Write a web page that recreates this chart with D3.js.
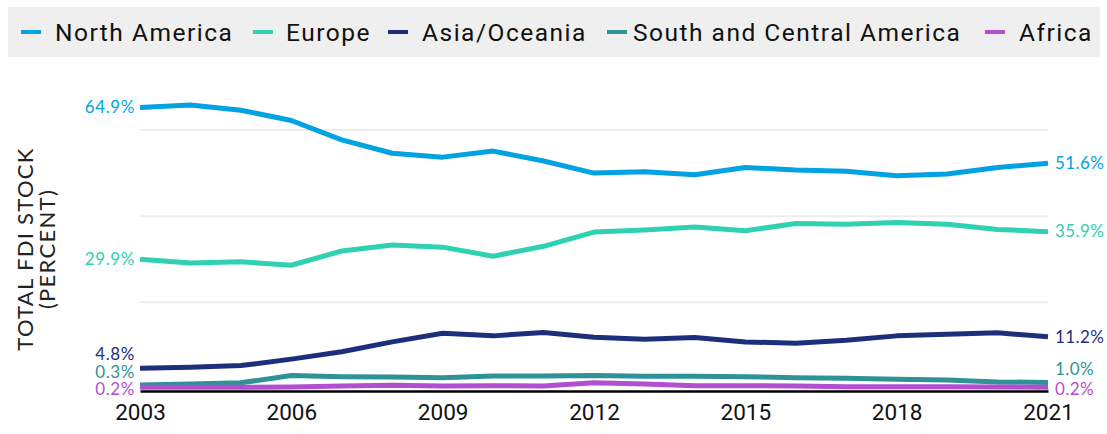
<!DOCTYPE html>
<html>
<head>
<meta charset="utf-8">
<script src="https://cdn.jsdelivr.net/npm/d3@7"></script>
<style>
  body { margin: 0; background: #fff; }
  svg { display: block; }
</style>
</head>
<body>
<div id="chart"></div>
<script>
const width = 1107;
const height = 434;

// data
const years = d3.range(2003, 2022);
const regions = ["North America", "Europe", "Asia/Oceania", "South and Central America", "Africa"];
const northAmerica = [65.2, 65.8, 64.6, 62.2, 57.7, 54.6, 53.7, 55.1, 52.8, 50.0, 50.3, 49.6, 51.3, 50.7, 50.4, 49.4, 49.8, 51.3, 52.3];
const europe = [30.0, 29.1, 29.4, 28.6, 31.9, 33.3, 32.8, 30.7, 33.0, 36.3, 36.8, 37.5, 36.6, 38.3, 38.1, 38.5, 38.1, 36.9, 36.4];
const asiaOceania = [4.7, 4.9, 5.3, 6.8, 8.5, 10.8, 12.8, 12.2, 13.0, 11.9, 11.4, 11.8, 10.8, 10.5, 11.2, 12.2, 12.6, 12.9, 12.0];
const southCentral = [0.8, 1.0, 1.3, 3.0, 2.7, 2.65, 2.5, 2.9, 2.9, 3.0, 2.8, 2.8, 2.7, 2.5, 2.35, 2.1, 1.95, 1.5, 1.4];
const africa = [0.26, 0.26, 0.26, 0.33, 0.56, 0.72, 0.56, 0.63, 0.56, 1.33, 1.03, 0.63, 0.63, 0.56, 0.4, 0.4, 0.4, 0.33, 0.26];
const startLabels = ["64.9%", "29.9%", "4.8%", "0.3%", "0.2%"];
const endLabels = ["51.6%", "35.9%", "11.2%", "1.0%", "0.2%"];
const xTicks = [2003, 2006, 2009, 2012, 2015, 2018, 2021];
const gridValues = [20, 40, 60];

const colors = ["#00a2e1", "#2fd1b0", "#1d2f7c", "#2e9397", "#b24fd1"];
const seriesValues = [northAmerica, europe, asiaOceania, southCentral, africa];

const series = regions.map((name, i) => ({
  name: name,
  color: colors[i],
  values: years.map((yr, j) => ({ year: yr, value: seriesValues[i][j] })),
  startLabel: startLabels[i],
  endLabel: endLabels[i]
}));

// label positions (px) so the small series labels don't collide
const startLabelY = [107, 259, 354, 372, 389];
const endLabelY = [163, 231, 337, 369, 389];

const x = d3.scaleLinear().domain([2003, 2021]).range([140, 1048]);
const y = d3.scaleLinear().domain([-0.6, 60]).range([391, 130]);

const svg = d3.select("#chart").append("svg")
  .attr("width", width)
  .attr("height", height);

// legend
const legend = svg.append("g");
legend.append("rect")
  .attr("x", 8).attr("y", 7)
  .attr("width", 1092).attr("height", 50)
  .attr("fill", "#efefef");

const swatchX = [21, 253, 388, 607, 985];
const legendTextX = [55, 286, 422, 633, 1019];
legend.selectAll("g.item")
  .data(series)
  .enter()
  .append("g")
  .attr("class", "item")
  .each(function (d, i) {
    const g = d3.select(this);
    g.append("rect")
      .attr("x", swatchX[i]).attr("y", 30)
      .attr("width", 20).attr("height", 4)
      .attr("fill", d.color);
    g.append("text")
      .attr("x", legendTextX[i])
      .attr("y", 32)
      .attr("dy", "0.35em")
      .attr("font-family", "Roboto, sans-serif")
      .attr("font-size", "24.5px")
      .attr("letter-spacing", "1.5px")
      .attr("fill", "#111")
      .text(d.name);
  });

// gridlines
svg.append("g")
  .selectAll("line")
  .data(gridValues)
  .enter()
  .append("line")
  .attr("x1", x(2003))
  .attr("x2", x(2021))
  .attr("y1", (d) => y(d))
  .attr("y2", (d) => y(d))
  .attr("stroke", "#ececec")
  .attr("stroke-width", 2);

// x axis
const xAxis = svg.append("g")
  .attr("transform", `translate(0,${y(-0.6)})`)
  .call(d3.axisBottom(x).tickValues(xTicks).tickFormat(d3.format("d")).tickSize(0).tickPadding(13));
xAxis.select(".domain").attr("stroke", "#000").attr("stroke-width", 2.5);
xAxis.selectAll("text")
  .attr("font-family", "Roboto, sans-serif")
  .attr("font-size", "22.5px")
  .attr("fill", "#111");

// y axis title
svg.append("text")
  .attr("transform", "translate(33,249) rotate(-90)")
  .attr("text-anchor", "middle")
  .attr("font-family", "Lato, sans-serif")
  .attr("font-size", "22px")
  .attr("letter-spacing", "1.3px")
  .attr("fill", "#222")
  .text("TOTAL FDI STOCK");
svg.append("text")
  .attr("transform", "translate(55,249) rotate(-90)")
  .attr("text-anchor", "middle")
  .attr("font-family", "Lato, sans-serif")
  .attr("font-size", "22px")
  .attr("letter-spacing", "1.3px")
  .attr("fill", "#222")
  .text("(PERCENT)");

// lines
const line = d3.line()
  .x((d) => x(d.year))
  .y((d) => y(d.value));

svg.append("g")
  .selectAll("path")
  .data(series)
  .enter()
  .append("path")
  .attr("d", (d) => line(d.values))
  .attr("fill", "none")
  .attr("stroke", (d) => d.color)
  .attr("stroke-width", 5)
  .attr("stroke-linejoin", "round");

// end labels
svg.append("g")
  .selectAll("text")
  .data(series)
  .enter()
  .append("text")
  .attr("x", x(2003) - 5)
  .attr("y", (d, i) => startLabelY[i])
  .attr("dy", "0.35em")
  .attr("text-anchor", "end")
  .attr("font-family", "Lato, sans-serif")
  .attr("font-size", "17px")
  .attr("letter-spacing", "0.6px")
  .attr("fill", (d) => d.color)
  .text((d) => d.startLabel);

svg.append("g")
  .selectAll("text")
  .data(series)
  .enter()
  .append("text")
  .attr("x", x(2021) + 7)
  .attr("y", (d, i) => endLabelY[i])
  .attr("dy", "0.35em")
  .attr("font-family", "Lato, sans-serif")
  .attr("font-size", "17px")
  .attr("letter-spacing", "0.4px")
  .attr("fill", (d) => d.color)
  .text((d) => d.endLabel);
</script>
</body>
</html>
